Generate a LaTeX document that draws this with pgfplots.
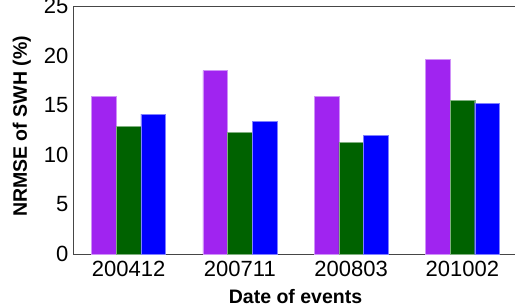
\documentclass[border=0pt]{standalone}
\usepackage{pgfplots}
\pgfplotsset{compat=1.18}
\usepackage{fontspec}
\setmainfont{Liberation Sans}
\definecolor{cpurple}{RGB}{160,36,240}
\definecolor{cgreen}{RGB}{0,98,0}
\definecolor{cblue}{RGB}{0,0,255}
\definecolor{axgray}{RGB}{70,70,70}
\begin{document}
\begin{tikzpicture}
\useasboundingbox (0,0) rectangle (515pt,306pt);
\begin{axis}[
  at={(73pt,52pt)}, anchor=south west,
  scale only axis, width=445pt, height=248pt,
  xmin=-0.5, xmax=3.5, ymin=0, ymax=25,
  ytick={0,5,10,15,20,25},
  xtick={0,1,2,3},
  xticklabels={200412,200711,200803,201002},
  major tick length=0pt,
  axis line style={axgray, line width=0.9pt},
  tick label style={font=\fontsize{22}{26}\selectfont, text=black},
  /pgf/number format/assume math mode=true,
  yticklabel style={xshift=-1pt},
  xticklabel style={yshift=-4pt},
  xlabel={\textbf{Date of events}},
  ylabel={\textbf{NRMSE of SWH (\%)}},
  xlabel style={at={(axis description cs:0.5,-0.1976)}, anchor=base, font=\fontsize{19.5}{23}\selectfont},
  ylabel style={at={(axis description cs:-0.1034,0.514)}, anchor=base, rotate=0, font=\fontsize{19.5}{23}\selectfont},
  ybar=0pt, bar width=0.222,
  clip=false,
]
\addplot[fill=cpurple, draw=cpurple!50!white, line width=0.4pt, bar shift=-0.222] coordinates {(0,15.86) (1,18.48) (2,15.86) (3,19.59)};
\addplot[fill=cgreen, draw=cgreen!50!white, line width=0.4pt, bar shift=0] coordinates {(0,12.87) (1,12.26) (2,11.26) (3,15.49)};
\addplot[fill=cblue, draw=cblue!50!white, line width=0.4pt, bar shift=0.222] coordinates {(0,14.1) (1,13.34) (2,11.96) (3,15.22)};
\end{axis}
\end{tikzpicture}
\end{document}
